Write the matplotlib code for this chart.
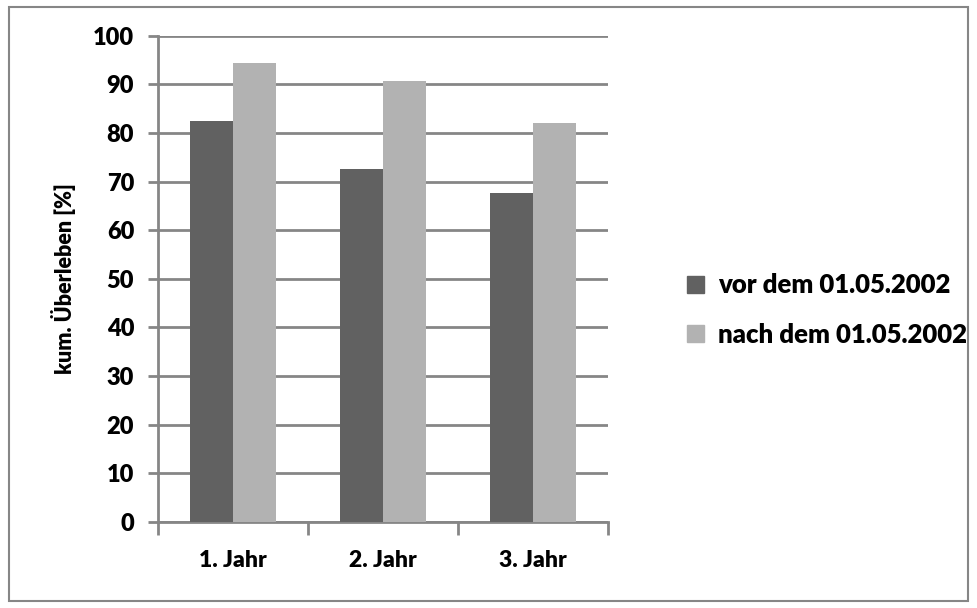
import numpy as np
import matplotlib.pyplot as plt
from matplotlib.patches import Rectangle, Patch

plt.rcParams['font.family'] = ['Lato', 'DejaVu Sans']
plt.rcParams['font.weight'] = 'heavy'

# Daten
jahre = ['1. Jahr', '2. Jahr', '3. Jahr']
vor = [82.5, 72.6, 67.6]
nach = [94.4, 90.7, 82.0]
serien = ['vor dem 01.05.2002', 'nach dem 01.05.2002']

dunkel = '#616161'
hell = '#b2b2b2'
grau = '#868686'
fw = 'heavy'

fig = plt.figure(figsize=(9.78, 6.08), dpi=100)
ax = fig.add_axes([0.1613, 0.1419, 0.4601, 0.7994])

x = np.arange(len(jahre))
w = 0.287
ax.bar(x - w / 2, vor, w, color=dunkel, zorder=3)
ax.bar(x + w / 2, nach, w, color=hell, zorder=3)

ax.set_xlim(-0.5, 2.5)
ax.set_ylim(0, 100)
ax.set_yticks(range(0, 101, 10))
ax.yaxis.grid(True, color=grau, linewidth=2, zorder=0)

for s in ['top', 'right']:
    ax.spines[s].set_visible(False)
for s in ['left', 'bottom']:
    ax.spines[s].set_color(grau)
    ax.spines[s].set_linewidth(2)

# x-Ticks an den Kategoriegrenzen, Beschriftung in der Mitte
ax.set_xticks([-0.5, 0.5, 1.5, 2.5])
ax.set_xticklabels([])
ax.set_xticks(x, minor=True)
ax.set_xticklabels(jahre, minor=True, fontsize=16.5, fontweight=fw)
ax.tick_params(axis='x', which='major', length=9, width=2, color=grau, direction='out')
ax.tick_params(axis='x', which='minor', length=0, pad=20)
ax.tick_params(axis='y', length=7, width=2, color=grau, direction='out', pad=10, labelsize=17)
for t in ax.get_yticklabels():
    t.set_fontweight(fw)

ax.set_ylabel('kum. Überleben [%]', fontsize=15.5, fontweight=fw, labelpad=12)

handles = [Patch(color=dunkel), Patch(color=hell)]
fig.legend(handles, serien, loc='center left', bbox_to_anchor=(0.679, 0.49),
           frameon=False, handlelength=0.65, handleheight=0.65,
           handletextpad=0.55, labelspacing=1.0, prop={'weight': fw, 'size': 18.5})

# Rahmen um das ganze Diagramm
fig.patches.append(Rectangle((0.009, 0.012), 0.981, 0.976, transform=fig.transFigure,
                             fill=False, edgecolor=grau, linewidth=1.5))

fig.savefig('out.png', dpi=100)
